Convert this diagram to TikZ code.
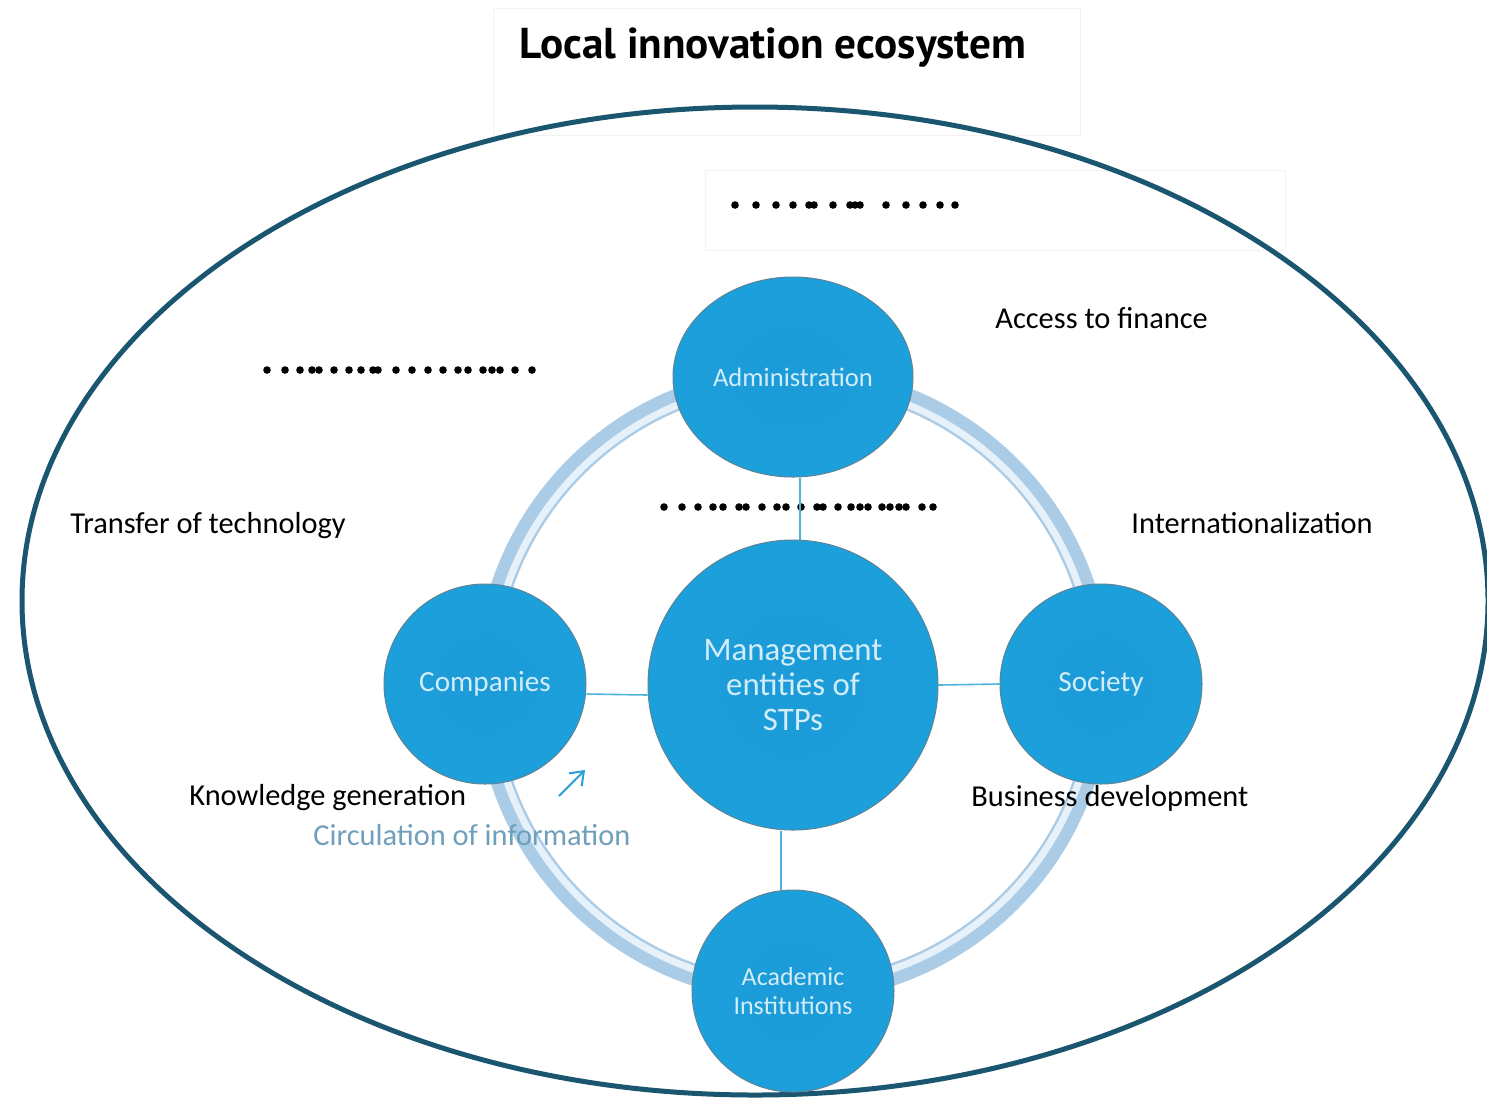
\documentclass[tikz,border=0pt]{standalone}
\usepackage{fontspec}
\setmainfont{Carlito}
\newfontfamily\titlefont{PT Sans}
\usetikzlibrary{shapes.geometric,arrows.meta}
\definecolor{ellc}{HTML}{1A5670}
\definecolor{ringc}{HTML}{ABCCE7}
\definecolor{ringhi}{HTML}{E6F1FA}
\definecolor{bubin}{HTML}{1B9BD8}
\definecolor{bubmid}{HTML}{1DA2DD}
\definecolor{bubrim}{HTML}{8ADAF5}
\definecolor{bubout}{HTML}{3AAFE0}
\definecolor{bubedge}{HTML}{5F8396}
\definecolor{bubtext}{HTML}{D2ECF8}
\definecolor{connc}{HTML}{4FB3DC}
\definecolor{circc}{HTML}{6F9FBA}
\definecolor{arrowc}{HTML}{2A9FD8}
\pgfdeclareradialshading{bubble}{\pgfpoint{0bp}{0bp}}{color(0bp)=(bubin); color(36bp)=(bubmid); color(43bp)=(bubmid); color(47bp)=(bubrim); color(49.3bp)=(bubout); color(50bp)=(bubout)}
\begin{document}
\begin{tikzpicture}[x=0.5pt,y=-0.5pt,
  bubble/.style={ellipse, draw=bubedge, line width=0.5pt, shade, shading=bubble, text=bubtext, align=center, inner sep=0pt},
  lbl/.style={anchor=west, inner sep=0pt, font=\fontsize{15.2}{18}\selectfont, text=black},
  conn/.style={draw=connc, line width=0.8pt},
  dotc/.style={fill=black}]
\clip (0,0) rectangle (1487,1100);
\fill[white] (0,0) rectangle (1487,1100);
% faint boxes
\draw[black!5, line width=0.5pt] (493,8) rectangle (1080,135);
\draw[black!5, line width=0.5pt] (705,170) rectangle (1285,250);
% title
\node[font=\titlefont\bfseries\fontsize{21.6}{24}\selectfont, inner sep=0pt] (title) at (773,48) {Local innovation ecosystem};
% big ellipse
\draw[ellc, line width=2.5pt] (755,601) ellipse [x radius=733, y radius=494];
% ring
\draw[ringc, line width=11pt] (793,684) circle [radius=307];
\draw[ringhi, line width=3.5pt] (793,684) circle [radius=302];
% dots
\foreach \x in {735,756,776,793,809,814,833,850,855,860,886,906,923,940,955}
  \fill[dotc] (\x,205) circle [radius=3.8];
\foreach \x in {267,285,300,312,319,334,349,361,373,378,396,412,428,443,458,468,483,492,500,515,532}
  \fill[dotc] (\x,370) circle [radius=3.8];
\foreach \x in {664,682,698,713,723,739,746,762,777,786,801,817,823,838,851,860,868,882,890,899,906,922,933}
  \fill[dotc] (\x,507) circle [radius=3.8];
% bubbles
\node[bubble, minimum width=120pt, minimum height=100pt, font=\fontsize{13.3}{15}\selectfont] (adm) at (793,377) {Administration};
\node[bubble, minimum width=145pt, minimum height=145pt, font=\fontsize{16.4}{17.5}\selectfont] (mgmt) at (793,685) {Management\\entities of\\STPs};
\node[bubble, minimum width=101pt, minimum height=100pt, font=\fontsize{14.6}{16}\selectfont] (comp) at (485,684) {Companies};
\node[bubble, minimum width=101pt, minimum height=100pt, font=\fontsize{14.6}{16}\selectfont] (soc) at (1101,684) {Society};
\node[bubble, minimum width=101pt, minimum height=101pt, font=\fontsize{13}{14.5}\selectfont] (acad) at (793,991) {Academic\\Institutions};
% connectors
\draw[conn] ([xshift=3.5pt]adm.south) -- ([xshift=3.5pt]mgmt.north);
\draw[conn] ([yshift=-5pt]comp.east) -- ([yshift=-5pt]mgmt.west);
\draw[conn] (mgmt.east) -- (soc.west);
\draw[conn] ([xshift=-6pt]mgmt.south) -- ([xshift=-6pt]acad.north);
% labels
\node[lbl] (acc) at (995,318) {Access to finance};
\node[lbl] (tot) at (70,526) {Transfer of technology};
\node[lbl] (intl) at (1131,523) {Internationalization};
\node[lbl] (kg) at (189,798) {Knowledge generation};
\node[lbl] (bd) at (971,798) {Business development};
\node[lbl, text=circc] (ci) at (313,835) {Circulation of information};
% arrow
\coordinate (a1) at (559,796);
\coordinate (a2) at (585,770);
\draw[arrowc, line width=1pt, -{Straight Barb[length=6pt,width=9pt]}] (a1) -- (a2);
\end{tikzpicture}
\end{document}
